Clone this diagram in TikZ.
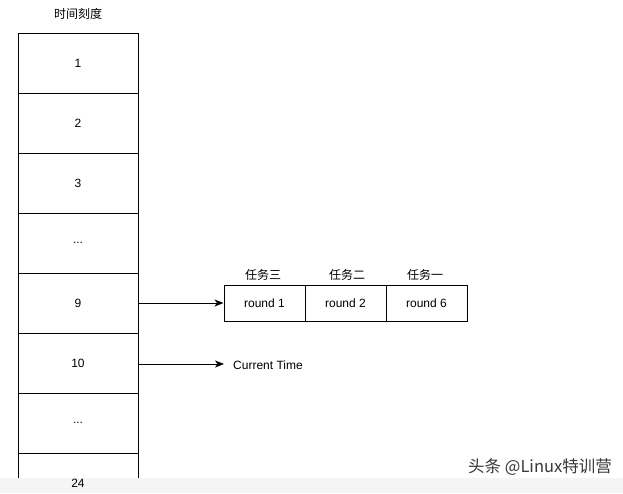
\documentclass[tikz,border=0pt]{standalone}
\usepackage{fontspec}
\setmainfont{Liberation Sans}
\newfontfamily\cjk{Noto Sans CJK SC}
\usetikzlibrary{arrows.meta}
\begin{document}
\begin{tikzpicture}[x=1pt,y=-1pt,
  cell/.style={draw=black,line width=1pt,minimum width=120pt,minimum height=60pt,inner sep=0pt,font=\fontsize{12}{14}\selectfont},
  task/.style={draw=black,line width=1pt,minimum width=81pt,minimum height=36pt,inner sep=0pt,font=\fontsize{12}{14}\selectfont},
  lbl/.style={font=\cjk\fontsize{12}{14}\selectfont,inner sep=0pt},
  arr/.style={line width=1pt,-{Stealth[length=9pt,width=7pt,inset=2.5pt]}}]
\useasboundingbox (0,0) rectangle (623,493);
\fill[white] (0,0) rectangle (623,493);
\node[lbl] (title) at (78,14) {时间刻度};
\begin{scope}
\clip (0,0) rectangle (623,478);
\node[cell] (c1) at (78,63) {1};
\node[cell] (c2) at (78,123) {2};
\node[cell] (c3) at (78,183) {3};
\node[cell] (c4) at (78,243) {...};
\node[cell] (c5) at (78,303) {9};
\node[cell] (c6) at (78,363) {10};
\node[cell] (c7) at (78,423) {...};
\node[cell,text opacity=0] (c8) at (78,483) {24};
\end{scope}
\fill[black!4] (0,478) rectangle (623,493);
\node[font=\fontsize{12}{14}\selectfont,inner sep=0pt] (t24) at (78,483) {24};
\node[task] (r1) at (264.5,303) {round 1};
\node[task] (r2) at (345.5,303) {round 2};
\node[task] (r3) at (426.5,303) {round 6};
\node[lbl] (l1) at (263,275) {任务三};
\node[lbl] (l2) at (347,275) {任务二};
\node[lbl] (l3) at (425,275) {任务一};
\coordinate (ct) at (224,364);
\node[anchor=west,font=\fontsize{12}{14}\selectfont,inner sep=0pt] (cur) at (233,365) {Current Time};
\draw[arr] (c5.east) -- (r1.west);
\draw[arr] (c6.east |- ct) -- (ct);
\node[anchor=east,font=\cjk\fontsize{16.5}{18}\selectfont,text=black!78,inner sep=0pt] (wm) at (612,467) {头条 @Linux特训营};
\end{tikzpicture}
\end{document}
